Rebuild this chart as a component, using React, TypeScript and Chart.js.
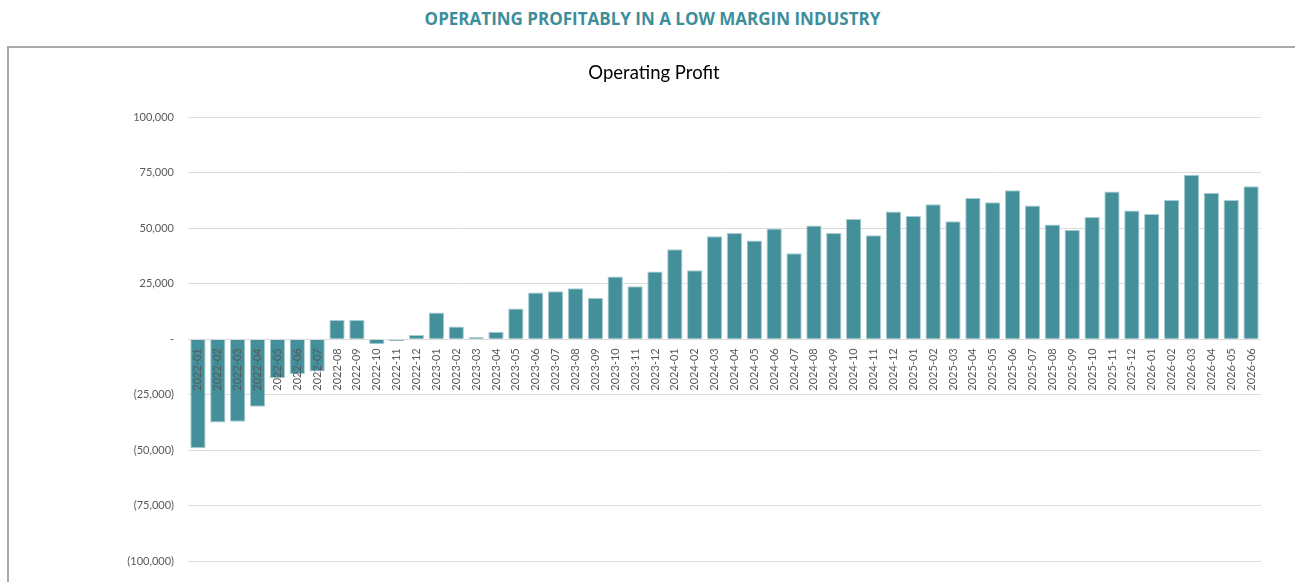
import React, { useEffect, useRef } from "react";
import { Chart, registerables } from "chart.js";

Chart.register(...registerables);

const pageTitle = "OPERATING PROFITABLY IN A LOW MARGIN INDUSTRY";
const chartTitle = "Operating Profit";

const months: string[] = [
  "2022-01", "2022-02", "2022-03", "2022-04", "2022-05", "2022-06", "2022-07", "2022-08", "2022-09", "2022-10", "2022-11", "2022-12",
  "2023-01", "2023-02", "2023-03", "2023-04", "2023-05", "2023-06", "2023-07", "2023-08", "2023-09", "2023-10", "2023-11", "2023-12",
  "2024-01", "2024-02", "2024-03", "2024-04", "2024-05", "2024-06", "2024-07", "2024-08", "2024-09", "2024-10", "2024-11", "2024-12",
  "2025-01", "2025-02", "2025-03", "2025-04", "2025-05", "2025-06", "2025-07", "2025-08", "2025-09", "2025-10", "2025-11", "2025-12",
  "2026-01", "2026-02", "2026-03", "2026-04", "2026-05", "2026-06",
];

const operatingProfit: number[] = [
  -49000, -37500, -37100, -30400, -17500, -15600, -14500, 8700, 8700, -2200, -800, 1900,
  12100, 5800, 1000, 3400, 13900, 21100, 21600, 23000, 18700, 28300, 23900, 30500,
  40600, 31100, 46400, 47900, 44500, 49900, 38800, 51200, 47900, 54200, 46900, 57500,
  55500, 60800, 53100, 63600, 61700, 67100, 60200, 51700, 49200, 55100, 66600, 58000,
  56400, 62700, 74100, 66000, 62700, 68900,
];

const yMin = -100000;
const yMax = 100000;
const yStep = 25000;

function formatTick(v: number): string {
  if (v === 0) return "-";
  const s = Math.abs(v).toLocaleString("en-US");
  return v < 0 ? `(${s})` : s;
}

export default function App() {
  const canvasRef = useRef<HTMLCanvasElement | null>(null);

  useEffect(() => {
    if (!canvasRef.current) return;
    const chart = new Chart(canvasRef.current, {
      type: "bar",
      data: {
        labels: months,
        datasets: [
          {
            label: chartTitle,
            data: operatingProfit,
            backgroundColor: "#438f9a",
            borderColor: "#a9cdd2",
            borderWidth: 1,
            barPercentage: 0.77,
            categoryPercentage: 1,
          },
        ],
      },
      options: {
        animation: false,
        responsive: true,
        maintainAspectRatio: false,
        layout: { padding: { left: 38, right: 34, top: 0, bottom: 18 } },
        plugins: {
          legend: { display: false },
          tooltip: { enabled: false },
          title: {
            display: true,
            text: chartTitle,
            color: "#000000",
            font: { family: "Lato, 'Open Sans', sans-serif", size: 18.5, weight: "normal" },
            padding: { top: 13, bottom: 33 },
          },
        },
        scales: {
          x: {
            type: "category",
            position: { y: 0 } as any,
            grid: { display: false, drawTicks: false },
            border: { display: false },
            ticks: {
              z: 1,
              autoSkip: false,
              minRotation: 90,
              maxRotation: 90,
              padding: 9,
              color: "#595959",
              font: { family: "Lato, 'Open Sans', sans-serif", size: 11 },
            },
          },
          y: {
            min: yMin,
            max: yMax,
            grid: { color: "#dcdcdc", lineWidth: 1, drawTicks: false },
            border: { display: false },
            afterFit: (scale: any) => {
              scale.width = 141;
            },
            ticks: {
              stepSize: yStep,
              padding: 14,
              color: "#595959",
              font: { family: "Lato, 'Open Sans', sans-serif", size: 11 },
              callback: (v: any) => formatTick(Number(v)),
            },
          },
        },
      },
    });
    return () => chart.destroy();
  }, []);

  return (
    <div style={{ position: "absolute", left: 0, top: 0, width: 1295, height: 582, overflow: "hidden", background: "#ffffff" }}>
      <div
        style={{
          position: "absolute",
          left: 0,
          top: 8,
          width: 1305,
          textAlign: "center",
          color: "#3d8e9b",
          fontFamily: "'Liberation Sans Narrow', 'Open Sans', sans-serif",
          fontWeight: "bold",
          fontSize: 17,
          lineHeight: "22px",
        }}
      >
        {pageTitle}
      </div>
      <div
        style={{
          position: "absolute",
          left: 7,
          top: 46,
          width: 1400,
          height: 700,
          borderLeft: "2px solid #a9a9a9",
          borderTop: "2px solid #a9a9a9",
        }}
      />
      <div style={{ position: "absolute", left: 9, top: 49, width: 1286, height: 533 }}>
        <canvas ref={canvasRef} />
      </div>
    </div>
  );
}
